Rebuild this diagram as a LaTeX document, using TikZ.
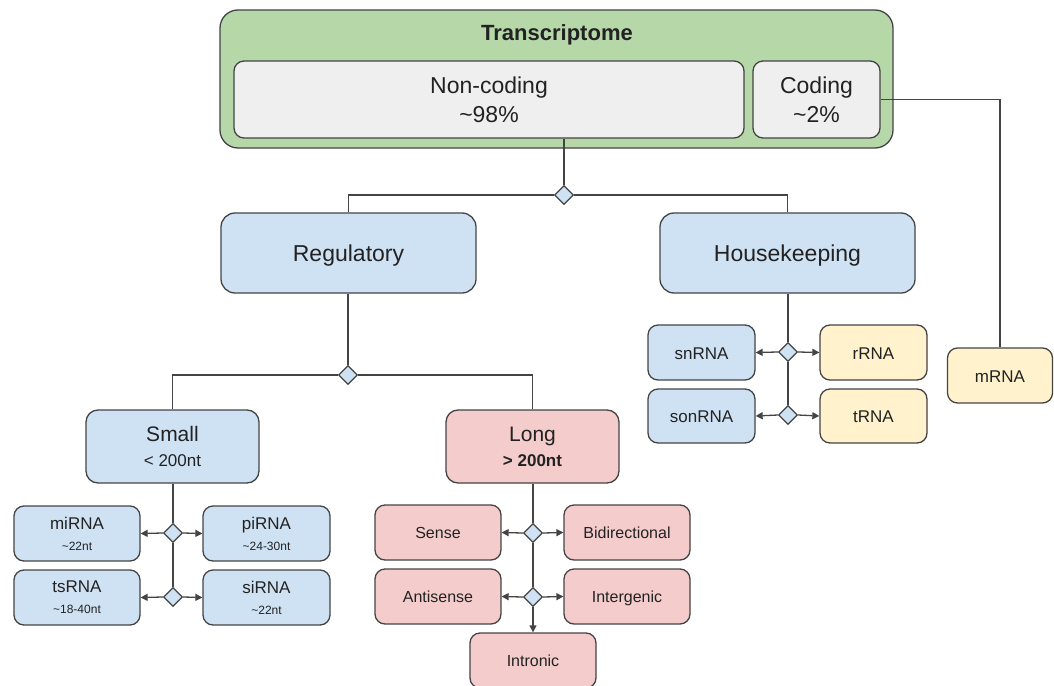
\documentclass[tikz,border=0pt]{standalone}
\usepackage{fontspec}
\setmainfont{Liberation Sans}
\usetikzlibrary{shapes.geometric,arrows.meta}
\definecolor{cgreen}{HTML}{B6D7A8}
\definecolor{cgray}{HTML}{EFEFEF}
\definecolor{cblue}{HTML}{CFE2F3}
\definecolor{cyellow}{HTML}{FFF2CC}
\definecolor{cpink}{HTML}{F4CCCC}
\definecolor{cline}{HTML}{444444}
\definecolor{ctext}{HTML}{222222}
\tikzset{
  box/.style={draw=cline, line width=1.3pt, rounded corners=10pt, inner sep=0pt,
    align=center, text=ctext, anchor=center},
  big/.style={font=\fontsize{23}{28}\selectfont, text height=18.4pt, text depth=1pt},
  mid/.style={font=\fontsize{17}{21}\selectfont, text height=13.6pt, text depth=0.4pt},
  sml/.style={font=\fontsize{16}{20}\selectfont, text height=12.8pt, text depth=0.4pt},
  dia/.style={draw=cline, line width=1.2pt, diamond, fill=cblue, inner sep=0pt,
    minimum width=19pt, minimum height=19pt},
  conn/.style={draw=cline, line width=1.3pt},
  arr/.style={conn, -{Triangle[length=7pt,width=7pt]}},
}
\begin{document}
\begin{tikzpicture}[x=1pt,y=-1pt]
\useasboundingbox (0,0) rectangle (1054,685);
% top container
\node[box, fill=cgreen, rounded corners=18pt, minimum width=673pt, minimum height=138pt] (trans) at (556.5,79) {};
\node[text=ctext, font=\fontsize{22}{26}\selectfont\bfseries] (title) at (557,35) {Transcriptome};
\node[box, fill=cgray, minimum width=510pt, minimum height=77pt, font=\fontsize{23}{29}\selectfont] (nonc) at (489,99.5) {Non-coding\\\textasciitilde98\%};
\node[box, fill=cgray, minimum width=127pt, minimum height=77pt, font=\fontsize{23}{29}\selectfont] (cod) at (816.5,99.5) {Coding\\\textasciitilde2\%};
% level 2
\node[dia] (d1) at (564,195) {};
\node[box, big, fill=cblue, rounded corners=14pt, minimum width=255pt, minimum height=80pt] (reg) at (348.5,253) {Regulatory};
\node[box, big, fill=cblue, rounded corners=14pt, minimum width=255pt, minimum height=80pt] (house) at (787.5,253) {Housekeeping};
% housekeeping children
\node[dia] (dh1) at (788,352) {};
\node[dia] (dh2) at (788,415) {};
\node[box, mid, fill=cblue, minimum width=107pt, minimum height=55pt] (snrna) at (701.5,352.5) {snRNA};
\node[box, mid, fill=cblue, minimum width=107pt, minimum height=54pt] (sonrna) at (701.5,416) {sonRNA};
\node[box, mid, fill=cyellow, minimum width=107pt, minimum height=55pt] (rrna) at (873.5,352.5) {rRNA};
\node[box, mid, fill=cyellow, minimum width=107pt, minimum height=54pt] (trna) at (873.5,416) {tRNA};
\node[box, mid, fill=cyellow, minimum width=105pt, minimum height=55pt] (mrna) at (1000,375.5) {mRNA};
% regulatory children
\node[dia] (d2) at (348,375) {};
\node[box, fill=cblue, rounded corners=12pt, minimum width=173pt, minimum height=73pt, font=\fontsize{21}{25}\selectfont] (small) at (172.5,446.5) {Small\\{\fontsize{17}{20}\selectfont < 200nt}};
\node[box, fill=cpink, rounded corners=12pt, minimum width=173pt, minimum height=73pt, font=\fontsize{21}{25}\selectfont] (long) at (532.5,446.5) {Long\\{\fontsize{17}{20}\selectfont\bfseries > 200nt}};
% small children
\node[dia] (ds1) at (173,533) {};
\node[dia] (ds2) at (173,597) {};
\node[box, fill=cblue, minimum width=126pt, minimum height=55pt, font=\fontsize{17}{21}\selectfont] (mirna) at (77,533.5) {miRNA\\{\fontsize{12}{15}\selectfont \textasciitilde22nt}};
\node[box, fill=cblue, minimum width=127pt, minimum height=55pt, font=\fontsize{17}{21}\selectfont] (pirna) at (266.5,533.5) {piRNA\\{\fontsize{12}{15}\selectfont \textasciitilde24-30nt}};
\node[box, fill=cblue, minimum width=126pt, minimum height=55pt, font=\fontsize{17}{21}\selectfont] (tsrna) at (77,597.5) {tsRNA\\{\fontsize{12}{15}\selectfont \textasciitilde18-40nt}};
\node[box, fill=cblue, minimum width=127pt, minimum height=55pt, font=\fontsize{17}{21}\selectfont] (sirna) at (266.5,597.5) {siRNA\\{\fontsize{12}{15}\selectfont \textasciitilde22nt}};
% long children
\node[dia] (dl1) at (533,533) {};
\node[dia] (dl2) at (533,597) {};
\node[box, sml, fill=cpink, minimum width=126pt, minimum height=55pt] (sense) at (438,532.5) {Sense};
\node[box, sml, fill=cpink, minimum width=126pt, minimum height=55pt] (bidir) at (627,532.5) {Bidirectional};
\node[box, sml, fill=cpink, minimum width=126pt, minimum height=55pt] (antis) at (438,596.5) {Antisense};
\node[box, sml, fill=cpink, minimum width=126pt, minimum height=55pt] (interg) at (627,596.5) {Intergenic};
\node[box, sml, fill=cpink, minimum width=126pt, minimum height=55pt] (intron) at (533,660.5) {Intronic};
% connectors
\draw[conn] (nonc.south -| d1.north) -- (d1.north);
\draw[conn] (d1.west) -| (reg.north);
\draw[conn] (d1.east) -| (house.north);
\draw[conn] (cod.east) -| (mrna.north);
\draw[conn] (house.south -| dh1.north) -- (dh1.north);
\draw[conn] (dh1.south) -- (dh2.north);
\draw[arr] (dh1.west) -- (snrna.east);
\draw[arr] (dh1.east) -- (rrna.west);
\draw[arr] (dh2.west) -- (sonrna.east);
\draw[arr] (dh2.east) -- (trna.west);
\draw[conn] (reg.south -| d2.north) -- (d2.north);
\draw[conn] (d2.west) -| (small.north);
\draw[conn] (d2.east) -| (long.north);
\draw[conn] (small.south -| ds1.north) -- (ds1.north);
\draw[conn] (ds1.south) -- (ds2.north);
\draw[arr] (ds1.west) -- (mirna.east);
\draw[arr] (ds1.east) -- (pirna.west);
\draw[arr] (ds2.west) -- (tsrna.east);
\draw[arr] (ds2.east) -- (sirna.west);
\draw[conn] (long.south -| dl1.north) -- (dl1.north);
\draw[conn] (dl1.south) -- (dl2.north);
\draw[arr] (dl1.west) -- (sense.east);
\draw[arr] (dl1.east) -- (bidir.west);
\draw[arr] (dl2.west) -- (antis.east);
\draw[arr] (dl2.east) -- (interg.west);
\draw[arr] (dl2.south) -- (intron.north -| dl2.south);
\end{tikzpicture}
\end{document}
